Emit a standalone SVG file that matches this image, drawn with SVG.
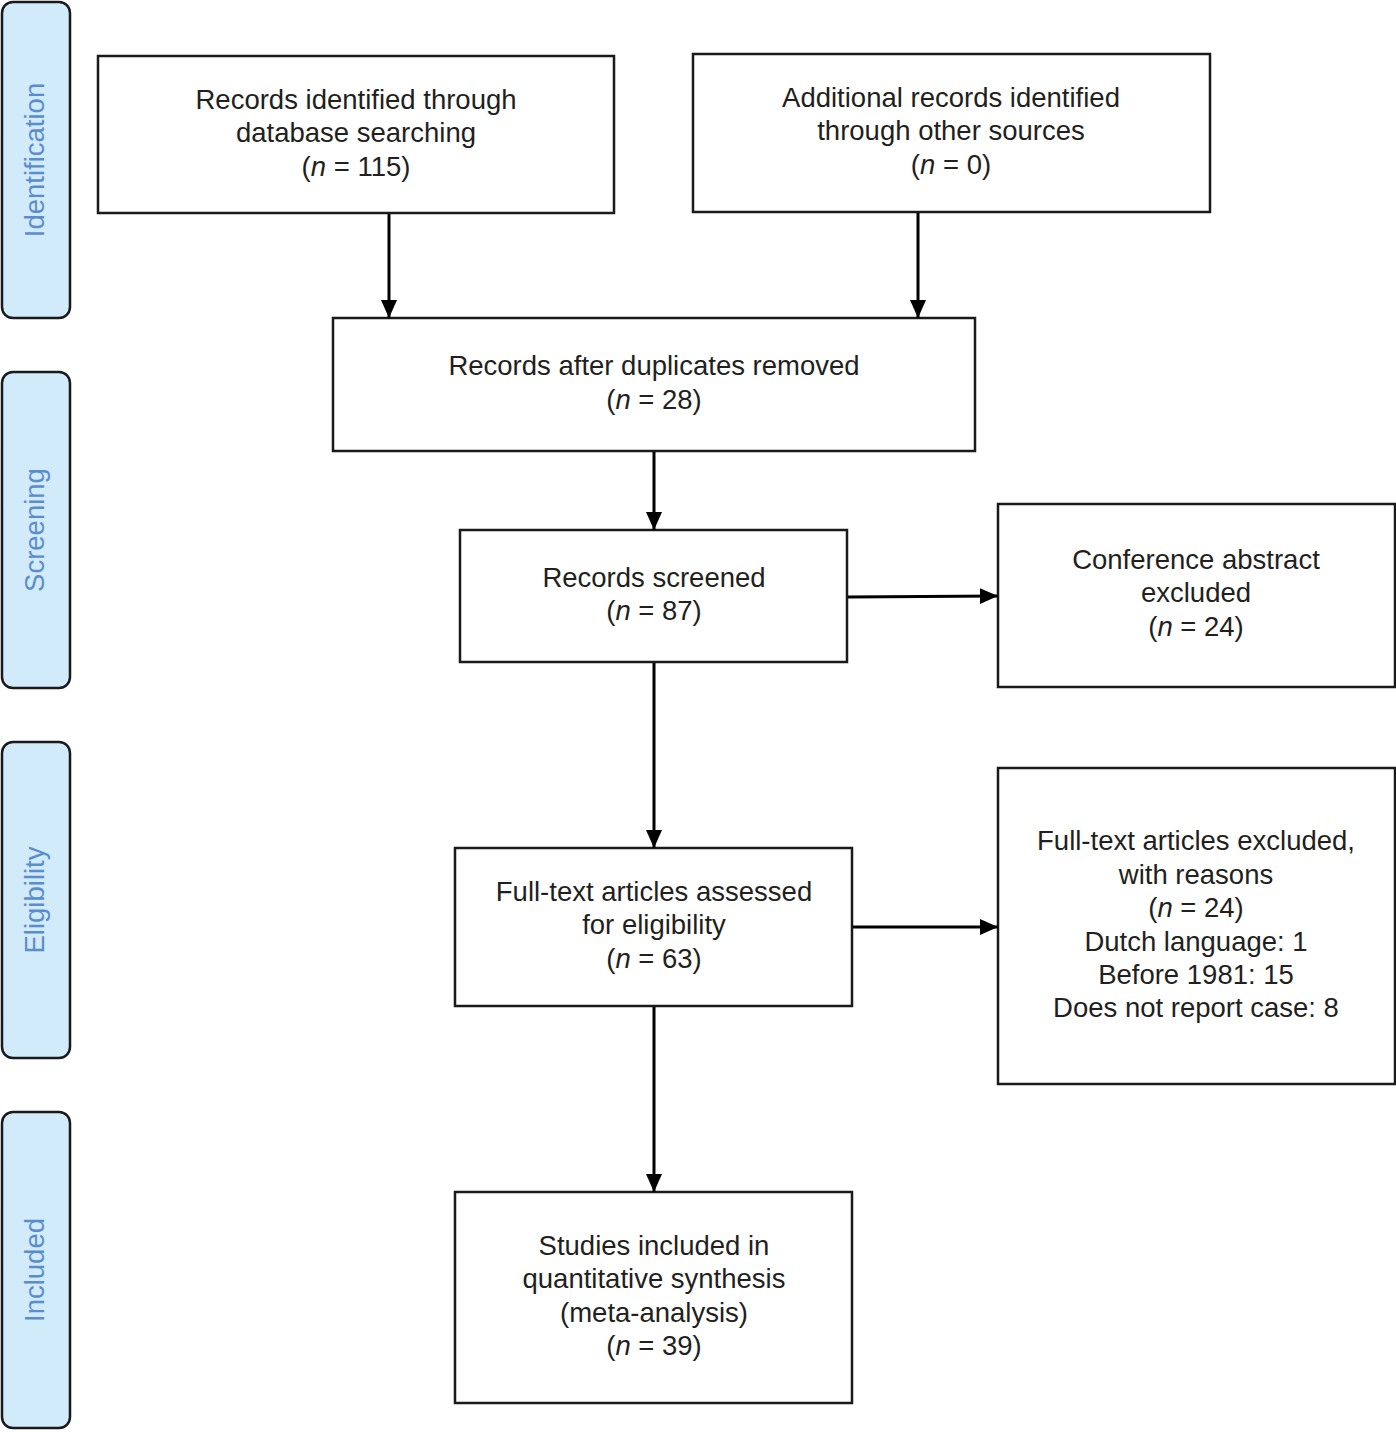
<svg xmlns="http://www.w3.org/2000/svg" width="1396" height="1432" viewBox="0 0 1396 1432">
<defs>
<style>
.side{fill:#d1ebfb;stroke:#1a1a1a;stroke-width:2.5}
.sl{font-family:"Liberation Sans",Arial,sans-serif;font-size:27.5px;fill:#5b8dcc;text-anchor:middle}
.box{fill:#fff;stroke:#1a1a1a;stroke-width:2.5}
.t{font-family:"Liberation Sans",Arial,sans-serif;font-size:27.5px;fill:#231f20;text-anchor:middle}
.c{stroke:#000;stroke-width:3;fill:none;marker-end:url(#ah)}
</style>
<marker id="ah" markerUnits="userSpaceOnUse" markerWidth="18" markerHeight="18" viewBox="0 0 18 18" refX="18" refY="9" orient="auto">
<path d="M0,1 L18,9 L0,17 Z" fill="#000"/>
</marker>
</defs>
<rect width="1396" height="1432" fill="#fff"/>
<g id="phase-identification"><rect class="side" x="2" y="2" width="68" height="316" rx="11"/><text class="sl" transform="translate(44,160) rotate(-90)">Identification</text></g>
<g id="phase-screening"><rect class="side" x="2" y="372" width="68" height="316" rx="11"/><text class="sl" transform="translate(44,530) rotate(-90)">Screening</text></g>
<g id="phase-eligibility"><rect class="side" x="2" y="742" width="68" height="316" rx="11"/><text class="sl" transform="translate(44,900) rotate(-90)">Eligibility</text></g>
<g id="phase-included"><rect class="side" x="2" y="1112" width="68" height="316" rx="11"/><text class="sl" transform="translate(44,1270) rotate(-90)">Included</text></g>

<g id="n-database"><rect class="box" x="98" y="56" width="516" height="157"/>
<text class="t" x="356" y="109">Records identified through</text>
<text class="t" x="356" y="142">database searching</text>
<text class="t" x="356" y="176">(<tspan font-style="italic">n</tspan> = 115)</text></g>

<g id="n-other"><rect class="box" x="693" y="54" width="517" height="158"/>
<text class="t" x="951" y="107">Additional records identified</text>
<text class="t" x="951" y="140">through other sources</text>
<text class="t" x="951" y="174">(<tspan font-style="italic">n</tspan> = 0)</text></g>

<g id="n-dedup"><rect class="box" x="333" y="318" width="642" height="133"/>
<text class="t" x="654" y="375">Records after duplicates removed</text>
<text class="t" x="654" y="409">(<tspan font-style="italic">n</tspan> = 28)</text></g>

<g id="n-screened"><rect class="box" x="460" y="530" width="387" height="132"/>
<text class="t" x="654" y="587">Records screened</text>
<text class="t" x="654" y="620">(<tspan font-style="italic">n</tspan> = 87)</text></g>

<g id="n-conf"><rect class="box" x="998" y="504" width="397" height="183"/>
<text class="t" x="1196" y="569">Conference abstract</text>
<text class="t" x="1196" y="602">excluded</text>
<text class="t" x="1196" y="636">(<tspan font-style="italic">n</tspan> = 24)</text></g>

<g id="n-fulltext"><rect class="box" x="455" y="848" width="397" height="158"/>
<text class="t" x="654" y="901">Full-text articles assessed</text>
<text class="t" x="654" y="934">for eligibility</text>
<text class="t" x="654" y="968">(<tspan font-style="italic">n</tspan> = 63)</text></g>

<g id="n-excluded"><rect class="box" x="998" y="768" width="397" height="316"/>
<text class="t" x="1196" y="850">Full-text articles excluded,</text>
<text class="t" x="1196" y="884">with reasons</text>
<text class="t" x="1196" y="917">(<tspan font-style="italic">n</tspan> = 24)</text>
<text class="t" x="1196" y="951">Dutch language: 1</text>
<text class="t" x="1196" y="984">Before 1981: 15</text>
<text class="t" x="1196" y="1017">Does not report case: 8</text></g>

<g id="n-included"><rect class="box" x="455" y="1192" width="397" height="211"/>
<text class="t" x="654" y="1255">Studies included in</text>
<text class="t" x="654" y="1288">quantitative synthesis</text>
<text class="t" x="654" y="1322">(meta-analysis)</text>
<text class="t" x="654" y="1355">(<tspan font-style="italic">n</tspan> = 39)</text></g>

<g id="connectors">
<line class="c" x1="389" y1="214" x2="389" y2="318"/>
<line class="c" x1="918" y1="213" x2="918" y2="318"/>
<line class="c" x1="654" y1="452" x2="654" y2="530"/>
<line class="c" x1="654" y1="663" x2="654" y2="848"/>
<line class="c" x1="654" y1="1007" x2="654" y2="1192"/>
<line class="c" x1="848" y1="597" x2="998" y2="596"/>
<line class="c" x1="853" y1="927" x2="998" y2="927"/>
</g>
</svg>
